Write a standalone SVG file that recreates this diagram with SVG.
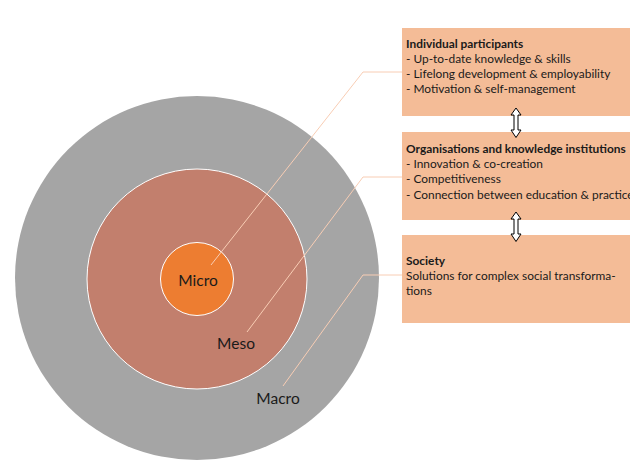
<svg xmlns="http://www.w3.org/2000/svg" width="630" height="462" viewBox="0 0 630 462">
<style>
.box{fill:#F4BC97;}
.t{font-family:Lato,"Liberation Sans",sans-serif;font-size:11.9px;fill:#1a1a1a;}
.b{font-weight:bold;}
.lbl{font-family:Lato,"Liberation Sans",sans-serif;font-size:15.5px;fill:#1a1a1a;}
.lead{fill:none;stroke:#F8CDB4;stroke-width:1;}
.arr{fill:#fff;stroke:#000;stroke-width:1;}
</style>
<rect width="630" height="462" fill="#fff"/>
<g id="macro">
<circle cx="197" cy="278" r="182" fill="#A5A5A5"/>
<text class="lbl" x="278" y="404" text-anchor="middle">Macro</text>
</g>
<g id="meso">
<circle cx="197" cy="279" r="110" fill="#C27F6D" stroke="#fff" stroke-width="1"/>
<text class="lbl" x="236" y="349" text-anchor="middle">Meso</text>
</g>
<g id="micro">
<circle cx="197" cy="279" r="36.5" fill="#ED7D31" stroke="#fff" stroke-width="1"/>
<text class="lbl" x="198" y="286" text-anchor="middle">Micro</text>
</g>
<g id="individual">
<rect class="box" x="402" y="28" width="240" height="88"/>
<text class="t b" x="406" y="48">Individual participants</text>
<text class="t" x="406" y="63">- Up-to-date knowledge &amp; skills</text>
<text class="t" x="406" y="78">- Lifelong development &amp; employability</text>
<text class="t" x="406" y="93">- Motivation &amp; self-management</text>
</g>
<g id="organisations">
<rect class="box" x="402" y="132" width="240" height="88"/>
<text class="t b" x="406" y="153">Organisations and knowledge institutions</text>
<text class="t" x="406" y="168">- Innovation &amp; co-creation</text>
<text class="t" x="406" y="183">- Competitiveness</text>
<text class="t" x="406" y="199">- Connection between education &amp; practice</text>
</g>
<g id="society">
<rect class="box" x="402" y="235" width="240" height="88"/>
<text class="t b" x="406" y="265">Society</text>
<text class="t" x="406" y="280">Solutions for complex social transforma-</text>
<text class="t" x="406" y="295">tions</text>
</g>
<g id="connectors">
<polyline class="lead" points="402,72 363,72 211,265"/>
<polyline class="lead" points="402,177 363,177 247,332"/>
<polyline class="lead" points="402,275 363,275 283,386"/>
<polygon class="arr" points="516,108 521,115 518,115 518,130 521,130 516,137.5 511,130 514,130 514,115 511,115"/>
<polygon class="arr" points="516,212 521,219 518,219 518,234 521,234 516,241.5 511,234 514,234 514,219 511,219"/>
</g>
</svg>
